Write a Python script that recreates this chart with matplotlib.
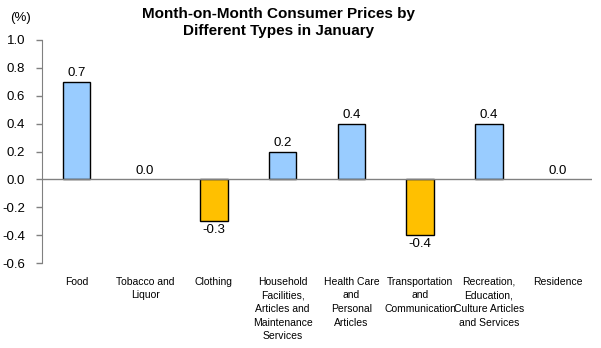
import matplotlib
matplotlib.use("Agg")
import matplotlib.pyplot as plt

categories = ["Food", "Tobacco and\nLiquor", "Clothing",
              "Household\nFacilities,\nArticles and\nMaintenance\nServices",
              "Health Care\nand\nPersonal\nArticles",
              "Transportation\nand\nCommunication",
              "Recreation,\nEducation,\nCulture Articles\nand Services",
              "Residence"]
values = [0.7, 0.0, -0.3, 0.2, 0.4, -0.4, 0.4, 0.0]
yticks = [-0.6, -0.4, -0.2, 0.0, 0.2, 0.4, 0.6, 0.8, 1.0]

plt.rcParams['font.family'] = ['Liberation Sans', 'DejaVu Sans']
W, H = 601, 348
fig = plt.figure(figsize=(W/100, H/100), dpi=100)
x0, x1 = 42, 592
ytop, ybot = 40, 263
ax = fig.add_axes([x0/W, 1-ybot/H, (x1-x0)/W, (ybot-ytop)/H])

pos = list(range(len(categories)))
colors = ['#99CCFF' if v >= 0 else '#FFC000' for v in values]
lws = [1 if v != 0 else 0 for v in values]
ax.bar(pos, values, width=0.4, color=colors, edgecolor='black', linewidth=lws, zorder=3)
ax.set_xlim(-0.5, len(categories)-0.5)
ax.set_ylim(-0.6, 1.0)
ax.set_yticks(yticks)
ax.set_yticklabels([f"{t:.1f}" for t in yticks], fontsize=9.5)
ax.tick_params(axis='y', length=4, color='#808080', width=1, pad=8)
ax.set_xticks([])
for s in ['top', 'right', 'bottom']:
    ax.spines[s].set_visible(False)
ax.spines['left'].set_color('#808080')
ax.axhline(0, color='#808080', linewidth=1, zorder=4)

for p, v in zip(pos, values):
    if v >= 0:
        ax.annotate(f"{v:.1f}", (p, v), xytext=(0, 2), textcoords='offset points',
                    ha='center', va='bottom', fontsize=9.5)
    else:
        ax.annotate(f"{v:.1f}", (p, v), xytext=(0, -2), textcoords='offset points',
                    ha='center', va='top', fontsize=9.5)

for p, c in zip(pos, categories):
    ax.annotate(c, (p, 0), xycoords=('data', 'axes fraction'), xytext=(0, -10),
                textcoords='offset points', ha='center', va='top', fontsize=7.5,
                linespacing=1.45)

fig.text(279/W, 1-7/H, "Month-on-Month Consumer Prices by\nDifferent Types in January",
         ha='center', va='top', fontsize=11, fontweight='bold', linespacing=1.25)
fig.text(10/W, 1-18/H, "(%)", ha='left', va='center', fontsize=9.5)

fig.savefig("out.png", dpi=100)
